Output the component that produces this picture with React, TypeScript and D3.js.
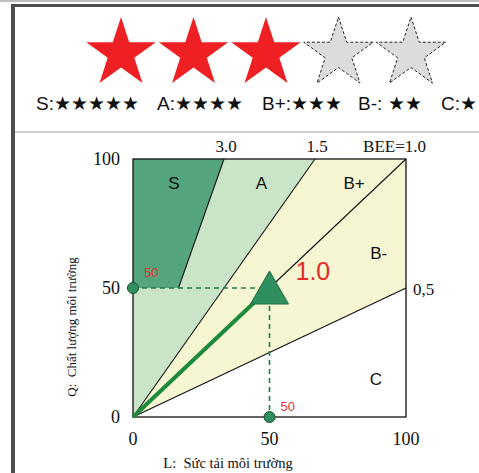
import React from "react";
import * as d3 from "d3";

// BEE thresholds drawn as rays from the origin
const beeValues = [3.0, 1.5, 1.0, 0.5];
const beeLabels = ["3.0", "1.5", "BEE=1.0", "0,5"];
// rank zones and their fills
const zoneNames = ["S", "A", "B+", "B-", "C"];
const zoneFills = ["#54a57e", "#c9e4c6", "#f6f6d2", "#f6f6d2", "#ffffff"];
// axis ticks
const axisTicks = [0, 50, 100];
// evaluated building: L (load) and Q (quality)
const pointL = [50];
const pointQ = [50];
const pointBee = ["1.0"];
// star rating: filled and empty stars
const starFilled = [true, true, true, false, false];
// rank legend: rank name and star count
const legendRanks = ["S:", "A:", "B+:", "B-: ", "C:"];
const legendStars = [5, 4, 3, 2, 1];

const W = 479;
const H = 473;

function starPath(cx: number, cy: number, R: number, r: number) {
  const pts: [number, number][] = [];
  for (let i = 0; i < 10; i++) {
    const a = -Math.PI / 2 + (i * Math.PI) / 5;
    const rad = i % 2 === 0 ? R : r;
    pts.push([cx + rad * Math.cos(a), cy + rad * Math.sin(a)]);
  }
  return d3.line()(pts) + "Z";
}

export default function App() {
  const x = d3.scaleLinear().domain([0, 100]).range([133, 406]);
  const y = d3.scaleLinear().domain([0, 100]).range([417, 159]);

  // where a ray Q = b*L leaves the plot box
  const rayEnd = (b: number): [number, number] =>
    b >= 1 ? [100 / b, 100] : [100, 100 * b];

  const P = (p: [number, number]) => [x(p[0]), y(p[1])] as [number, number];
  const poly = (pts: [number, number][]) => d3.line()(pts.map(P)) + "Z";

  const e3 = rayEnd(beeValues[0]);
  const e15 = rayEnd(beeValues[1]);
  const e1 = rayEnd(beeValues[2]);
  const e05 = rayEnd(beeValues[3]);
  const sCut: [number, number] = [pointQ[0] / beeValues[0], pointQ[0]];

  const zones: [number, number][][] = [
    [[0, 100], e3, sCut, [0, 50]],
    [e3, e15, [0, 0], [0, 50], sCut],
    [e15, e1, [0, 0]],
    [e1, e05, [0, 0]],
    [e05, [100, 0], [0, 0]],
  ];
  const zoneLabelPos: [number, number][] = [
    [15, 90],
    [47, 90],
    [81, 90],
    [90, 63],
    [89, 14],
  ];

  const px = x(pointL[0]);
  const py = y(pointQ[0]);
  const serif = "'Liberation Serif', 'DejaVu Serif', serif";
  const sans = "'Liberation Sans', Arial, sans-serif";

  const triangle = d3.line()([
    [px, py - 17],
    [px + 19, py + 16],
    [px - 19, py + 16],
  ]) + "Z";

  // legend group positions along the row
  const legendPos = [36, 157, 262, 358, 441];

  return (
    <svg width={W} height={H} style={{ position: "absolute", left: 0, top: 0 }}>
      <rect width={W} height={H} fill="#ffffff" />
      {/* frame */}
      <line x1={0} x2={W} y1={1} y2={1} stroke="#aaa" strokeWidth={1.5} />
      <line x1={12} x2={W} y1={5.5} y2={5.5} stroke="#4d4d4d" strokeWidth={3} />
      <line x1={13} x2={13} y1={4} y2={H} stroke="#4d4d4d" strokeWidth={4} />
      <line x1={15} x2={W} y1={132} y2={132} stroke="#9a9a9a" strokeWidth={1.2} />

      {/* rating stars */}
      {starFilled.map((f, i) => (
        <path
          key={i}
          d={starPath(121 + i * 72.5, 53.5, 36.5, 14)}
          fill={f ? "#ee2024" : "#dcdcdc"}
          stroke={f ? "none" : "#222"}
          strokeWidth={1}
          strokeDasharray={f ? undefined : "3,2"}
        />
      ))}
      {legendRanks.map((r, i) => (
        <text
          key={r}
          x={legendPos[i]}
          y={110}
          fontFamily={sans}
          fontSize={19}
          fill="#111"
          style={{ whiteSpace: "pre" }}
        >
          {r + "★".repeat(legendStars[i])}
        </text>
      ))}

      {/* zones */}
      {zones.map((z, i) => (
        <path key={i} d={poly(z)} fill={zoneFills[i]} stroke="none" />
      ))}
      {zoneNames.map((n, i) => (
        <text
          key={n}
          x={x(zoneLabelPos[i][0])}
          y={y(zoneLabelPos[i][1])}
          fontFamily={sans}
          fontSize={17}
          textAnchor="middle"
          dominantBaseline="middle"
          fill="#111"
        >
          {n}
        </text>
      ))}

      {/* BEE rays */}
      <line x1={x(sCut[0])} y1={y(sCut[1])} x2={x(e3[0])} y2={y(e3[1])} stroke="#111" strokeWidth={1.1} />
      {[e15, e1, e05].map((e, i) => (
        <line key={i} x1={x(0)} y1={y(0)} x2={x(e[0])} y2={y(e[1])} stroke="#111" strokeWidth={1.1} />
      ))}
      <rect x={x(0)} y={y(100)} width={x(100) - x(0)} height={y(0) - y(100)} fill="none" stroke="#111" strokeWidth={1.3} />

      {/* BEE labels */}
      <text x={x(e3[0]) + 2} y={152} fontFamily={serif} fontSize={17} textAnchor="middle" fill="#111">{beeLabels[0]}</text>
      <text x={x(e15[0]) + 2} y={152} fontFamily={serif} fontSize={17} textAnchor="middle" fill="#111">{beeLabels[1]}</text>
      <text x={x(e1[0]) + 20} y={152} fontFamily={serif} fontSize={17} textAnchor="end" fill="#111">{beeLabels[2]}</text>
      <text x={x(e05[0]) + 7} y={y(e05[1]) + 7} fontFamily={serif} fontSize={17} textAnchor="start" fill="#111">{beeLabels[3]}</text>

      {/* guide lines to the point */}
      <line x1={x(0)} y1={py} x2={px} y2={py} stroke="#1e7d45" strokeWidth={1.6} strokeDasharray="5,4" />
      <line x1={px} y1={py} x2={px} y2={y(0)} stroke="#1e7d45" strokeWidth={1.6} strokeDasharray="5,4" />

      {/* BEE vector */}
      <line x1={x(0)} y1={y(0)} x2={px} y2={py} stroke="#1d8a3c" strokeWidth={4} />
      <path d={triangle} fill="#2f8f5e" stroke="#1f6e45" strokeWidth={1} />

      <circle cx={x(0)} cy={py} r={5.5} fill="#2f8f5e" stroke="#1a4d33" strokeWidth={1} />
      <circle cx={px} cy={y(0)} r={5.5} fill="#2f8f5e" stroke="#1a4d33" strokeWidth={1} />

      <text x={x(0) + 11} y={py - 11} fontFamily={sans} fontSize={13} fill="#e0322e">{pointQ[0]}</text>
      <text x={px + 11} y={y(0) - 6} fontFamily={sans} fontSize={13} fill="#e0322e">{pointL[0]}</text>
      <text x={px + 26} y={py - 8} fontFamily={sans} fontSize={25} fill="#e62b27">{pointBee[0]}</text>

      {/* axis ticks */}
      {axisTicks.map((t) => (
        <text key={"y" + t} x={120} y={y(t)} dy="0.35em" fontFamily={serif} fontSize={18} textAnchor="end" fill="#111">{t}</text>
      ))}
      {axisTicks.map((t) => (
        <text key={"x" + t} x={x(t)} y={445} fontFamily={serif} fontSize={18} textAnchor="middle" fill="#111">{t}</text>
      ))}

      {/* axis titles */}
      <text x={228} y={468} fontFamily={serif} fontSize={14.5} textAnchor="middle" fill="#111" style={{ whiteSpace: "pre" }}>
        L:  Sức tải môi trường
      </text>
      <text
        transform={`translate(76, ${327}) rotate(-90)`}
        fontFamily={serif}
        fontSize={13}
        textAnchor="middle"
        fill="#111"
        style={{ whiteSpace: "pre" }}
      >
        Q:  Chất lượng môi trường
      </text>
    </svg>
  );
}
